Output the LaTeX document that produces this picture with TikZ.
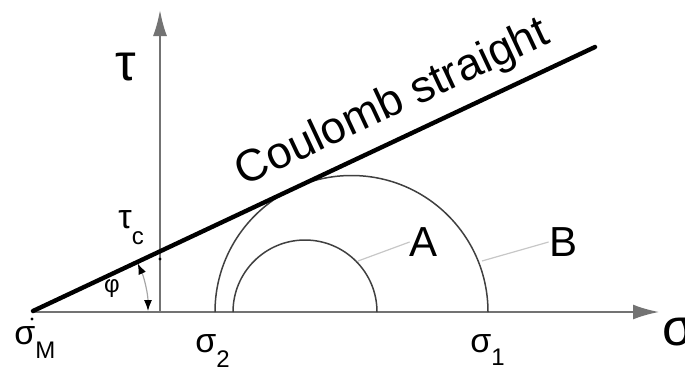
\documentclass[tikz,border=0pt]{standalone}
\usepackage{fontspec}
\setmainfont{Liberation Sans}
\usetikzlibrary{arrows.meta}
\newcommand{\lowidx}[2]{\raisebox{-#2}{\fontsize{12}{14}\selectfont #1}}

\begin{document}
\begin{tikzpicture}[x=0.5pt,y=-0.5pt,
  axis/.style={black!55,line width=1pt},
  circ/.style={black!75,line width=0.75pt},
  leader/.style={black!22,line width=0.6pt},
  big/.style={inner sep=0pt,font=\fontsize{21}{25}\selectfont},
  grk/.style={inner sep=0pt,anchor=base west,font=\fontsize{17}{20}\selectfont},
  axlbl/.style={inner sep=0pt,anchor=base west,font=\fontsize{26}{30}\selectfont}]
\path[use as bounding box] (0,0) rectangle (685,370);
% axes
\coordinate (orig) at (33,312);
\coordinate (xend) at (659,312);
\coordinate (ybot) at (160,312);
\coordinate (yend) at (160,10);
\draw[axis,-{Latex[length=13pt,width=7.5pt]}] (orig) -- (xend);
\draw[axis,-{Latex[length=13pt,width=7pt]}] (ybot) -- (yend);
\node[axlbl] (tau) at (115,80) {τ};
\node[axlbl] (sig) at (662,345) {σ};
% Mohr circles
\draw[circ] (215,312) arc[start angle=180,end angle=360,radius=136.5];
\draw[circ] (233,312) arc[start angle=180,end angle=360,radius=72];
% Coulomb line
\coordinate (sM) at (33,311);
\coordinate (cend) at (595,47);
\draw[line width=2.2pt,line cap=round] (sM) -- (cend);
\node[big,font=\fontsize{22.5}{27}\selectfont,rotate=25.1] (coul) at (393,104) {Coulomb straight};
% friction angle
\draw[black!35,line width=0.6pt,{Latex[length=5.5pt,width=4pt,black]}-{Latex[length=5.5pt,width=4pt,black]}]
  (148,311) arc[start angle=0,end angle=-24.5,radius=115];
\node[inner sep=0pt,font=\fontsize{12}{14}\selectfont] (phi) at (112,289) {φ};
% points
\fill (160,259) circle (1.6);
\fill (32,319) circle (1.6);
\node[grk] (tauc) at (118,228) {τ\lowidx{c}{8pt}};
\node[grk] (sigM) at (14,344) {σ\lowidx{M}{7pt}};
\node[grk] (sig2) at (195,352) {σ\lowidx{2}{7.5pt}};
\node[grk] (sig1) at (470,352) {σ\lowidx{1}{6.5pt}};
% labels
\node[big] (lA) at (424,242) {A};
\node[big] (lB) at (563,242) {B};
\coordinate (onA) at (358,261);
\coordinate (onB) at (482,261);
\draw[leader] (onA) -- (lA.west);
\draw[leader] (onB) -- (lB.west);
\end{tikzpicture}
\end{document}
